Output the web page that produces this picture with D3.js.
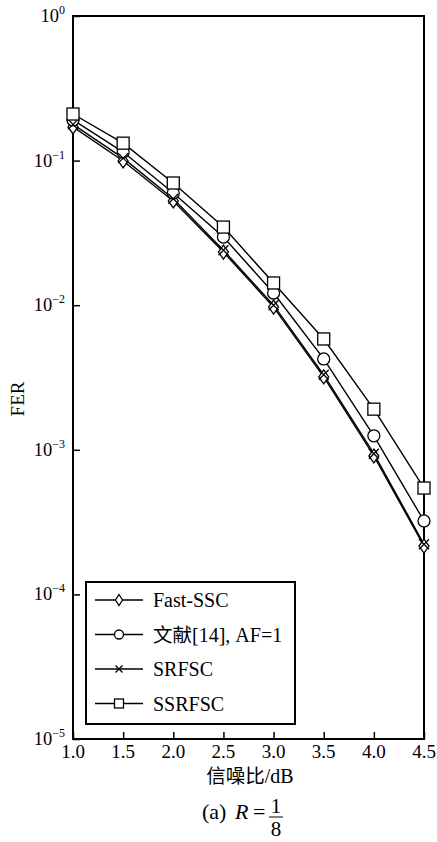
<!DOCTYPE html>
<html><head><meta charset="utf-8">
<script src="https://cdn.jsdelivr.net/npm/d3@7"></script>
<style>
body{margin:0;background:#fff;}
svg{display:block;}
text{font-family:'Liberation Serif','DejaVu Serif',serif;fill:#000;}
.cjk{font-family:'Noto Sans CJK SC',sans-serif;}
</style></head>
<body>
<script>
const snr = [1.0, 1.5, 2.0, 2.5, 3.0, 3.5, 4.0, 4.5];
const fastSSC = [0.171, 0.0994, 0.0526, 0.0233, 0.0097, 0.00319, 0.000906, 0.000216];
const ref14 = [0.191, 0.1146, 0.0597, 0.0296, 0.01214, 0.00425, 0.00125, 0.000322];
const srfsc = [0.178, 0.104, 0.0545, 0.0240, 0.0100, 0.00330, 0.00094, 0.000222];
const ssrfsc = [0.210, 0.132, 0.070, 0.0347, 0.01425, 0.00584, 0.00191, 0.000544];
const seriesNames = [["", "Fast-SSC"], ["文献", "[14], AF=1"], ["", "SRFSC"], ["", "SSRFSC"]];
const markers = ["diamond", "circle", "cross", "square"];
const xTicks = [1.0, 1.5, 2.0, 2.5, 3.0, 3.5, 4.0, 4.5];
const yExps = [0, -1, -2, -3, -4, -5];

const W = 437, H = 842;
const L = 73, R = 424, T = 16, B = 739;
const svg = d3.select("body").append("svg").attr("width", W).attr("height", H);
const x = d3.scaleLinear().domain([1.0, 4.5]).range([L, R]);
const y = d3.scaleLog().domain([1e-5, 1]).range([B, T]);

svg.append("rect").attr("x", L).attr("y", T).attr("width", R - L).attr("height", B - T)
  .attr("fill", "none").attr("stroke", "#000").attr("stroke-width", 2);

const xa = svg.append("g").attr("transform", `translate(0,${B})`)
  .call(d3.axisTop(x).tickValues(xTicks).tickSize(7).tickFormat(""));
xa.select(".domain").remove();
xa.selectAll("line").attr("stroke-width", 1.5);
svg.selectAll(".xlab").data(xTicks).enter().append("text")
  .attr("x", d => x(d)).attr("y", B + 19).attr("text-anchor", "middle")
  .attr("font-size", 19).text(d => d.toFixed(1));

const ya = svg.append("g").attr("transform", `translate(${L},0)`)
  .call(d3.axisRight(y).tickValues(yExps.map(e => Math.pow(10, e))).tickSize(7).tickFormat(""));
ya.select(".domain").remove();
ya.selectAll("line").attr("stroke-width", 1.5);
yExps.forEach(e => {
  const t = svg.append("text").attr("x", 65).attr("y", y(Math.pow(10, e)) + 6)
    .attr("text-anchor", "end").attr("font-size", 18.5);
  t.append("tspan").text("10");
  t.append("tspan").attr("dy", -8).attr("font-size", 12).text(e === 0 ? "0" : "\u2212" + Math.abs(e));
});

const xt = svg.append("text").attr("x", 250).attr("y", B + 44).attr("text-anchor", "middle").attr("font-size", 20);
xt.append("tspan").attr("class", "cjk").attr("font-size", 19.5).text("信噪比");
xt.append("tspan").text("/dB");
svg.append("text").attr("transform", `translate(24,399) rotate(-90)`).attr("text-anchor", "middle")
  .attr("font-size", 19).text("FER");

// caption
svg.append("text").attr("x", 202).attr("y", 819).attr("font-size", 22).text("(a)");
svg.append("text").attr("x", 235).attr("y", 819).attr("font-size", 22).attr("font-style", "italic").text("R");
svg.append("text").attr("x", 253).attr("y", 819).attr("font-size", 22).text("=");
svg.append("text").attr("x", 276).attr("y", 813).attr("font-size", 21).attr("text-anchor", "middle").text("1");
svg.append("line").attr("x1", 269).attr("x2", 283).attr("y1", 817).attr("y2", 817).attr("stroke", "#000").attr("stroke-width", 1);
svg.append("text").attr("x", 276).attr("y", 836).attr("font-size", 21).attr("text-anchor", "middle").text("8");

function drawMarker(g, type, cx, cy, s) {
  let el;
  if (type === "square") {
    el = g.append("rect").attr("x", cx - s / 2).attr("y", cy - s / 2).attr("width", s).attr("height", s);
  } else if (type === "circle") {
    el = g.append("circle").attr("cx", cx).attr("cy", cy).attr("r", s / 2);
  } else if (type === "diamond") {
    const h = s / 2 + 1, w = s / 2 - 1;
    el = g.append("path").attr("d", `M${cx},${cy - h}L${cx + w},${cy}L${cx},${cy + h}L${cx - w},${cy}Z`);
  } else {
    const h = s / 2 - 1;
    el = g.append("path").attr("d", `M${cx - h},${cy - h}L${cx + h},${cy + h}M${cx - h},${cy + h}L${cx + h},${cy - h}`);
  }
  el.attr("fill", type === "cross" ? "none" : "#fff").attr("stroke", "#000").attr("stroke-width", 1.3);
}

const allSeries = [fastSSC, ref14, srfsc, ssrfsc];
const line = d3.line().x(d => x(d[0])).y(d => y(d[1]));
const plot = svg.append("g");
allSeries.forEach(vals => {
  plot.append("path").datum(snr.map((s, j) => [s, vals[j]])).attr("d", line).attr("fill", "none")
    .attr("stroke", "#000").attr("stroke-width", 1.4);
});
allSeries.forEach((vals, i) => {
  const g = plot.append("g");
  snr.forEach((s, j) => drawMarker(g, markers[i], x(s), y(vals[j]), 12));
});

const lg = svg.append("g");
lg.append("rect").attr("x", 86).attr("y", 582).attr("width", 209).attr("height", 142)
  .attr("fill", "#fff").attr("stroke", "#000").attr("stroke-width", 2);
seriesNames.forEach((n, i) => {
  const ly = 600 + i * 34.5;
  lg.append("line").attr("x1", 95).attr("x2", 143).attr("y1", ly).attr("y2", ly)
    .attr("stroke", "#000").attr("stroke-width", 1.4);
  drawMarker(lg, markers[i], 119, ly, 9);
  const t = lg.append("text").attr("x", 153).attr("y", ly + 7).attr("font-size", 20);
  if (n[0]) t.append("tspan").attr("class", "cjk").attr("font-size", 19.5).text(n[0]);
  t.append("tspan").text(n[1]);
});
</script>
</body></html>
